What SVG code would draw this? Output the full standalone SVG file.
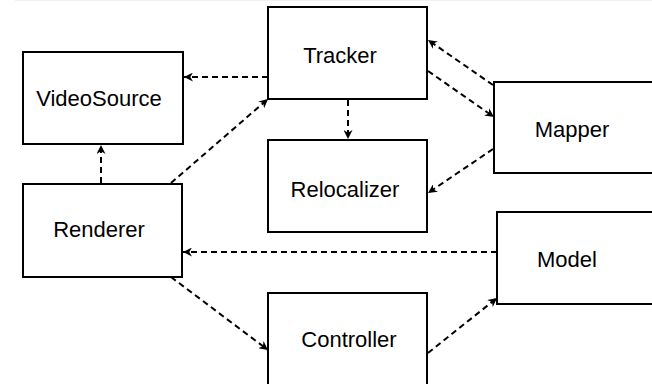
<svg xmlns="http://www.w3.org/2000/svg" width="652" height="384" viewBox="0 0 652 384">
<defs>
<marker id="arr" viewBox="0 0 10 10" refX="10" refY="5" markerWidth="10" markerHeight="9" markerUnits="userSpaceOnUse" orient="auto">
<path d="M0,0 L10,5 L0,10 L3,5 z" fill="#000"/>
</marker>
<style>
.box{fill:#fff;stroke:#000;stroke-width:2}
.lbl{font-family:"Liberation Sans",Arial,sans-serif;font-size:22px;fill:#000;text-anchor:middle}
.c{fill:none;stroke:#000;stroke-width:2;stroke-dasharray:6 4;marker-end:url(#arr)}
</style>
</defs>
<rect width="652" height="384" fill="#fff"/>
<line x1="15" y1="0.5" x2="652" y2="0.5" stroke="#f0f0f0" stroke-width="1"/>
<g id="VideoSource"><rect class="box" x="23" y="52" width="160" height="92"/><text class="lbl" x="99" y="106">VideoSource</text></g>
<g id="Tracker"><rect class="box" x="268" y="7" width="159" height="92"/><text class="lbl" x="340" y="63">Tracker</text></g>
<g id="Relocalizer"><rect class="box" x="268" y="140" width="159" height="92"/><text class="lbl" x="345" y="197">Relocalizer</text></g>
<g id="Mapper"><rect class="box" x="494" y="82" width="170" height="91"/><text class="lbl" x="572" y="137">Mapper</text></g>
<g id="Renderer"><rect class="box" x="23" y="184" width="159" height="93"/><text class="lbl" x="99" y="237">Renderer</text></g>
<g id="Model"><rect class="box" x="497" y="212" width="170" height="92"/><text class="lbl" x="567" y="267">Model</text></g>
<g id="Controller"><rect class="box" x="268" y="293" width="159" height="100"/><text class="lbl" x="349" y="347">Controller</text></g>
<g id="connectors">
<line class="c" x1="268" y1="77" x2="184" y2="77"/>
<line class="c" x1="171" y1="183" x2="268" y2="99"/>
<line class="c" x1="101" y1="183" x2="101" y2="145"/>
<line class="c" x1="348" y1="100" x2="348" y2="139"/>
<line class="c" x1="493" y1="85" x2="428" y2="40"/>
<line class="c" x1="428" y1="71" x2="494" y2="117"/>
<line class="c" x1="493" y1="149" x2="428" y2="193"/>
<line class="c" x1="497" y1="252" x2="183" y2="252"/>
<line class="c" x1="171" y1="277" x2="268" y2="350"/>
<line class="c" x1="428" y1="353" x2="497" y2="298"/>
</g>
</svg>
